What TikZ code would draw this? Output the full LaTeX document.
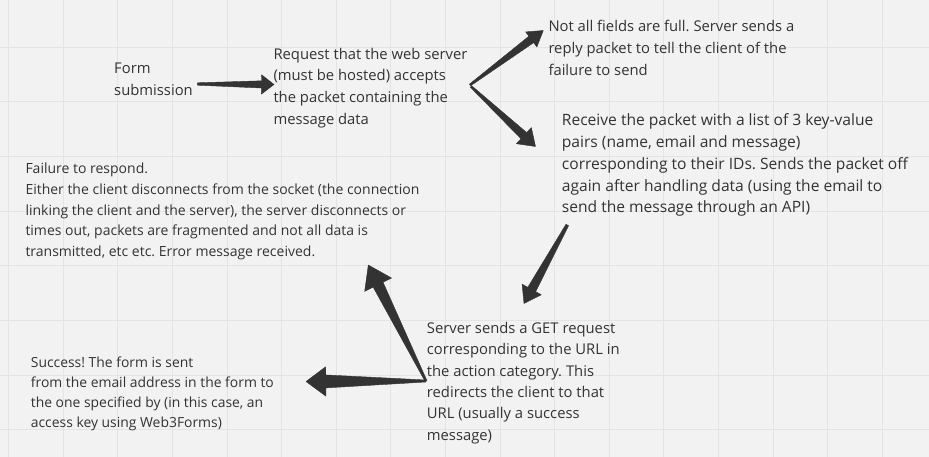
\documentclass[tikz,border=0pt]{standalone}
\usepackage{fontspec}
\setmainfont{Open Sans}
\usetikzlibrary{calc}
\definecolor{bgc}{HTML}{F2F2F2}
\definecolor{gridc}{HTML}{E4E4E4}
\definecolor{inkc}{HTML}{333333}
\frenchspacing
\tikzset{
  txt/.style={anchor=base west, inner sep=0pt, align=left, text=inkc,
    font=\fontsize{14.8}{21.7}\selectfont},
  arrowc/.style={fill=inkc, draw=inkc, line width=0.4pt, line join=round}
}
% #1 start, #2 tip, #3 tail half width, #4 shaft half width at head,
% #5 head length, #6 head half width
\newcommand{\fatarr}[6]{%
  \coordinate (hb) at ($(#2)!#5!(#1)$);
  \filldraw[arrowc] ($(#1)!#3!90:(#2)$) -- ($(hb)!#4!-90:(#1)$) --
    ($(hb)!#6!-90:(#1)$) -- (#2) -- ($(hb)!#6!90:(#1)$) --
    ($(hb)!#4!90:(#1)$) -- ($(#1)!#3!-90:(#2)$) -- cycle;}
\begin{document}
\begin{tikzpicture}[x=1pt,y=-1pt]
\useasboundingbox (0,0) rectangle (929,457);
\fill[bgc] (0,0) rectangle (929,457);
\foreach \i in {0,...,16} {\draw[gridc, line width=0.8pt] ({8.5+54.6*\i},0) -- ({8.5+54.6*\i},457);}
\foreach \j in {0,...,7} {\draw[gridc, line width=0.8pt] (0,{47.3+54.6*\j}) -- (929,{47.3+54.6*\j});}

% anchors are at the baseline of the LAST line of each block
\node[txt] (form) at (114,95.2) {Form\\submission};
\node[txt] (request) at (273.3,124.4) {Request that the web server\\(must be hosted) accepts\\the packet containing the\\message data};
\node[txt] (notall) at (548.3,75.1) {Not all fields are full. Server sends a\\reply packet to tell the client of the\\failure to send};
\node[txt, font=\fontsize{15.6}{21.7}\selectfont] (receive) at (561.7,212.8) {Receive the packet with a list of 3 key-value\\pairs (name, email and message)\\corresponding to their IDs. Sends the packet off\\again after handling data (using the email to\\send the message through an API)};
\node[txt, font=\fontsize{14}{20.5}\selectfont] (failure) at (25.3,256) {Failure to respond.\\Either the client disconnects from the socket (the connection\\linking the client and the server), the server disconnects or\\times out, packets are fragmented and not all data is\\transmitted, etc etc. Error message received.};
\node[txt, font=\fontsize{14.8}{21.3}\selectfont] (getreq) at (426.7,440) {Server sends a GET request\\corresponding to the URL in\\the action category. This\\redirects the client to that\\URL (usually a success\\message)};
\node[txt, font=\fontsize{13.9}{20}\selectfont] (success) at (30.7,427.3) {Success! The form is sent\\from the email address in the form to\\the one specified by (in this case, an\\access key using Web3Forms)};

\coordinate (a1s) at (197.3,84);
\coordinate (a1e) at (274,84.5);
\coordinate (fork) at (470,85);
\coordinate (a2e) at (543.3,30.5);
\coordinate (fork2) at (471,86.5);
\coordinate (a3e) at (535.5,146.5);
\coordinate (a4s) at (567.3,225);
\coordinate (a4e) at (524,303.5);
\coordinate (fork3) at (426,381);
\coordinate (a5e) at (368.3,265);
\coordinate (a6e) at (306,381.5);

\fatarr{a1s}{a1e}{1.2pt}{3.6pt}{12.5pt}{9.7pt}
\fatarr{fork}{a2e}{1pt}{4pt}{15pt}{9.4pt}
\fatarr{fork2}{a3e}{1pt}{4.2pt}{15.9pt}{11pt}
\fatarr{a4s}{a4e}{1.5pt}{4.5pt}{16pt}{11pt}
\fatarr{fork3}{a5e}{1pt}{5.5pt}{22pt}{15pt}
\fatarr{fork3}{a6e}{1pt}{6.5pt}{19.8pt}{14.7pt}
\end{tikzpicture}
\end{document}
